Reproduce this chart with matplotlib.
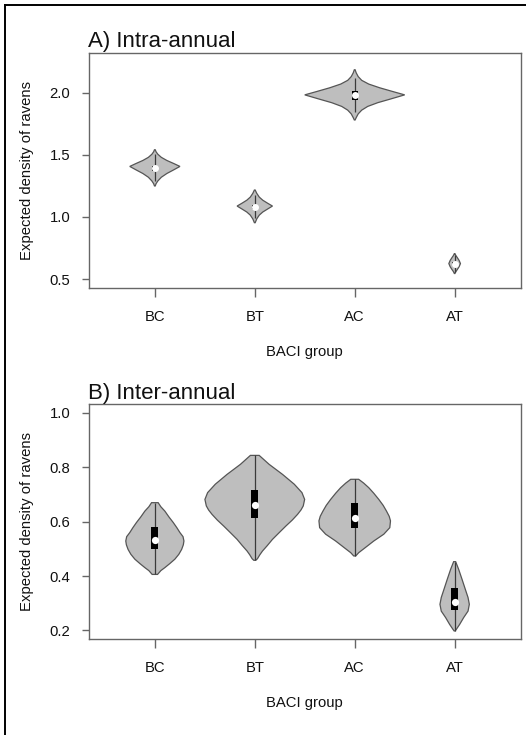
import numpy as np
import matplotlib
matplotlib.use('Agg')
import matplotlib.pyplot as plt
from matplotlib.lines import Line2D
from matplotlib.patches import Rectangle

plt.rcParams['font.family'] = ['Liberation Sans', 'DejaVu Sans']

# --- data ---
groups = ['BC', 'BT', 'AC', 'AT']

# A) Intra-annual: violin outlines as (value, half-width) pairs, bottom to top
a_bc_y = [1.250, 1.268, 1.290, 1.320, 1.350, 1.380, 1.407, 1.430, 1.455, 1.480, 1.505, 1.525, 1.541]
a_bc_w = [0.004, 0.012, 0.030, 0.065, 0.120, 0.190, 0.251, 0.190, 0.120, 0.065, 0.030, 0.012, 0.004]
a_bt_y = [0.954, 0.985, 1.015, 1.040, 1.065, 1.088, 1.110, 1.135, 1.160, 1.190, 1.217]
a_bt_w = [0.004, 0.020, 0.045, 0.080, 0.130, 0.177, 0.130, 0.080, 0.045, 0.020, 0.004]
a_ac_y = [1.781, 1.800, 1.830, 1.860, 1.890, 1.920, 1.950, 1.983, 2.010, 2.040, 2.070, 2.100, 2.130, 2.160, 2.185]
a_ac_w = [0.004, 0.015, 0.035, 0.070, 0.130, 0.230, 0.360, 0.500, 0.380, 0.250, 0.140, 0.070, 0.035, 0.015, 0.004]
a_at_y = [0.545, 0.560, 0.575, 0.600, 0.625, 0.650, 0.675, 0.690, 0.705]
a_at_w = [0.003, 0.012, 0.025, 0.045, 0.058, 0.045, 0.025, 0.012, 0.003]
a_med = [1.392, 1.082, 1.980, 0.622]
a_q1 = [1.370, 1.065, 1.940, 0.610]
a_q3 = [1.412, 1.100, 2.015, 0.635]
a_lo = [1.290, 0.995, 1.843, 0.560]
a_hi = [1.505, 1.180, 2.118, 0.690]

# B) Inter-annual
b_bc_y = [0.406, 0.420, 0.431, 0.446, 0.462, 0.480, 0.498, 0.515, 0.529, 0.545, 0.560, 0.578, 0.597, 0.618, 0.639, 0.655, 0.670]
b_bc_w = [0.027, 0.060, 0.100, 0.150, 0.200, 0.240, 0.268, 0.285, 0.291, 0.282, 0.251, 0.220, 0.184, 0.140, 0.100, 0.060, 0.033]
b_bt_y = [0.458, 0.464, 0.478, 0.492, 0.512, 0.535, 0.560, 0.584, 0.606, 0.627, 0.643, 0.658, 0.682, 0.707, 0.738, 0.774, 0.811, 0.844]
b_bt_w = [0.010, 0.027, 0.050, 0.077, 0.125, 0.177, 0.245, 0.311, 0.375, 0.428, 0.462, 0.485, 0.499, 0.472, 0.395, 0.278, 0.144, 0.044]
b_ac_y = [0.474, 0.486, 0.505, 0.529, 0.554, 0.578, 0.603, 0.620, 0.639, 0.660, 0.682, 0.705, 0.725, 0.742, 0.756]
b_ac_w = [0.010, 0.040, 0.107, 0.191, 0.291, 0.351, 0.358, 0.345, 0.318, 0.285, 0.241, 0.190, 0.141, 0.090, 0.040]
b_at_y = [0.198, 0.204, 0.222, 0.247, 0.271, 0.296, 0.321, 0.351, 0.388, 0.425, 0.453]
b_at_w = [0.005, 0.017, 0.050, 0.090, 0.134, 0.147, 0.134, 0.107, 0.074, 0.040, 0.010]
b_med = [0.534, 0.663, 0.613, 0.305]
b_q1 = [0.498, 0.613, 0.576, 0.275]
b_q3 = [0.582, 0.716, 0.667, 0.356]
b_lo = [0.406, 0.458, 0.474, 0.198]
b_hi = [0.670, 0.844, 0.756, 0.453]

W, H = 526, 735
fig = plt.figure(figsize=(W / 100, H / 100), dpi=100)

# outer frame (only top and left edges visible in the original crop)
fig.add_artist(Line2D([5 / W, 1], [1 - 5 / H, 1 - 5 / H], transform=fig.transFigure, color='black', lw=1.4))
fig.add_artist(Line2D([5 / W, 5 / W], [0, 1 - 5 / H], transform=fig.transFigure, color='black', lw=1.4))

txt = '#111111'
edge = '#555555'


def draw_panel(ax, outlines, q1, q3, med, lo, hi, box_w, dot_ms):
    for i, (ys, ws) in enumerate(outlines):
        pos = i + 1
        ys = np.asarray(ys)
        ws = np.asarray(ws)
        xs = np.concatenate([pos + ws, (pos - ws)[::-1]])
        yy = np.concatenate([ys, ys[::-1]])
        ax.fill(xs, yy, facecolor='#bebebe', edgecolor=edge, lw=0.9, zorder=2)
        ax.vlines(pos, lo[i], hi[i], color='#3a3a3a', lw=0.9, zorder=3)
        ax.add_patch(Rectangle((pos - box_w / 2, q1[i]), box_w, q3[i] - q1[i],
                               facecolor='black', edgecolor='none', zorder=4))
    ax.plot(range(1, len(med) + 1), med, 'o', ms=dot_ms, mfc='white', mec='none', zorder=5)

    ax.set_xlim(0.34, 4.66)
    ax.set_xticks(range(1, 5))
    ax.set_xticklabels(groups)
    for s in ax.spines.values():
        s.set_color('#666666')
        s.set_linewidth(1.0)
    ax.tick_params(axis='x', length=6.5, pad=9.5, width=1.0, color='#666666', labelsize=10.7, labelcolor=txt)
    ax.tick_params(axis='y', length=5, pad=8.3, width=1.0, color='#666666', labelsize=10.7, labelcolor=txt)
    ax.set_xlabel('BACI group', fontsize=10.7, color=txt)
    ax.set_ylabel('Expected density of ravens', fontsize=10.7, color=txt)
    ax.xaxis.set_label_coords(0.5, -0.273)
    ax.xaxis.label.set_va('center')
    ax.yaxis.set_label_coords(-0.1434, 0.5)
    ax.yaxis.label.set_va('center')


ax1 = fig.add_axes([88.9 / W, 1 - 287.8 / H, 431.7 / W, 234.8 / H])
draw_panel(ax1, [(a_bc_y, a_bc_w), (a_bt_y, a_bt_w), (a_ac_y, a_ac_w), (a_at_y, a_at_w)],
           a_q1, a_q3, a_med, a_lo, a_hi, box_w=0.06, dot_ms=5)
ax1.set_ylim(0.43, 2.32)
ax1.set_yticks([0.5, 1.0, 1.5, 2.0])
ax1.set_yticklabels(['0.5', '1.0', '1.5', '2.0'])
fig.text(88 / W, 1 - 47 / H, 'A) Intra-annual', fontsize=16, color=txt, va='baseline', ha='left')

ax2 = fig.add_axes([88.9 / W, 1 - 639.1 / H, 431.7 / W, 234.8 / H])
draw_panel(ax2, [(b_bc_y, b_bc_w), (b_bt_y, b_bt_w), (b_ac_y, b_ac_w), (b_at_y, b_at_w)],
           b_q1, b_q3, b_med, b_lo, b_hi, box_w=0.072, dot_ms=5.2)
ax2.set_ylim(0.168, 1.032)
ax2.set_yticks([0.2, 0.4, 0.6, 0.8, 1.0])
ax2.set_yticklabels(['0.2', '0.4', '0.6', '0.8', '1.0'])
fig.text(88 / W, 1 - 399 / H, 'B) Inter-annual', fontsize=16, color=txt, va='baseline', ha='left')

fig.savefig('out.png', dpi=100)
